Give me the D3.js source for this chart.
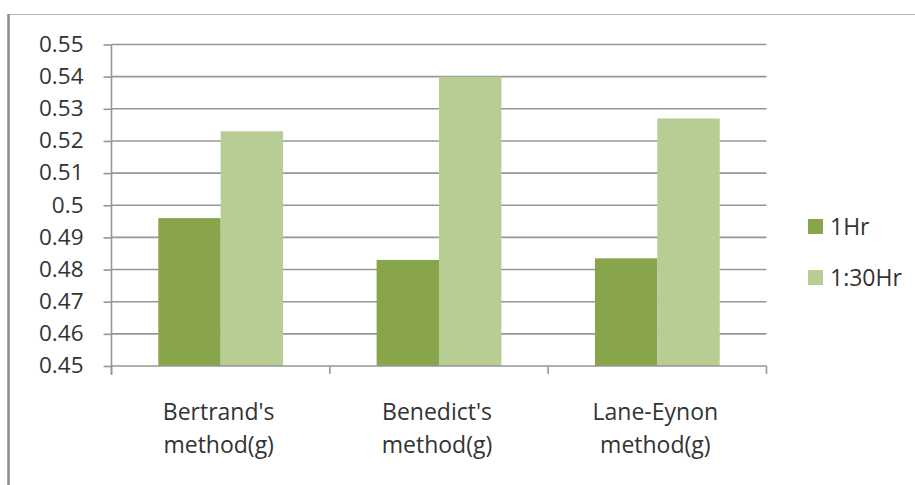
<!DOCTYPE html>
<html>
<head>
<meta charset="utf-8">
<script src="https://cdn.jsdelivr.net/npm/d3@7"></script>
<style>
  html, body { margin: 0; padding: 0; background: #fff; }
  svg { display: block; }
  text { font-family: "Open Sans", "Noto Sans", sans-serif; fill: #333; }
</style>
</head>
<body>
<svg id="chart" width="915" height="485"></svg>
<script>
// Sugar estimates per method, two reaction times
const categories = ["Bertrand's method(g)", "Benedict's method(g)", "Lane-Eynon method(g)"];
const categoryLines = [["Bertrand's", "method(g)"], ["Benedict's", "method(g)"], ["Lane-Eynon", "method(g)"]];
const seriesNames = ["1Hr", "1:30Hr"];
const series1Hr = [0.496, 0.483, 0.4835];
const series130Hr = [0.523, 0.540, 0.527];
const yTicks = [0.45, 0.46, 0.47, 0.48, 0.49, 0.5, 0.51, 0.52, 0.53, 0.54, 0.55];
const yTickLabels = ["0.45", "0.46", "0.47", "0.48", "0.49", "0.5", "0.51", "0.52", "0.53", "0.54", "0.55"];
const colors = ["#89a54c", "#b8cd94"];

const svg = d3.select("#chart");
const plot = { left: 111.5, right: 766.5, top: 44.5, bottom: 366 };

// outer frame (top and left edges)
svg.append("line").attr("x1", 8.5).attr("x2", 915).attr("y1", 14.5).attr("y2", 14.5)
  .attr("stroke", "#b4b4b4").attr("stroke-width", 1.2);
svg.append("line").attr("x1", 8.5).attr("x2", 8.5).attr("y1", 14).attr("y2", 485)
  .attr("stroke", "#8c8c8c").attr("stroke-width", 2.5);

const x0 = d3.scaleBand().domain(categories).range([plot.left, plot.right]).paddingInner(0).paddingOuter(0);
const gapFrac = 1.5 / 3.5;
const groupW = x0.bandwidth() * (1 - gapFrac);
const x1 = d3.scaleBand().domain(seriesNames).range([0, groupW]).padding(0);
const y = d3.scaleLinear().domain([0.45, 0.55]).range([plot.bottom, plot.top]);

// gridlines
svg.append("g").selectAll("line").data(yTicks.slice(1)).join("line")
  .attr("x1", plot.left).attr("x2", plot.right)
  .attr("y1", d => y(d)).attr("y2", d => y(d))
  .attr("stroke", "#969696").attr("stroke-width", 1.6);

// bars
const data = categories.map((c, i) => ({ cat: c, vals: [series1Hr[i], series130Hr[i]] }));
const groups = svg.append("g").selectAll("g").data(data).join("g")
  .attr("transform", d => `translate(${x0(d.cat) + (x0.bandwidth() - groupW) / 2},0)`);
groups.selectAll("rect").data(d => d.vals.map((v, j) => ({ v, s: seriesNames[j], j }))).join("rect")
  .attr("x", d => x1(d.s))
  .attr("width", x1.bandwidth())
  .attr("y", d => y(d.v))
  .attr("height", d => y(0.45) - y(d.v))
  .attr("fill", d => colors[d.j]);

// y axis
const yAxis = d3.axisLeft(y).tickValues(yTicks).tickSize(8).tickPadding(20)
  .tickFormat((d, i) => yTickLabels[i]);
const gy = svg.append("g").attr("transform", `translate(${plot.left},0)`).call(yAxis);
gy.select(".domain").attr("stroke", "#969696").attr("stroke-width", 1.6)
  .attr("d", `M0,${plot.top}V${plot.bottom + 9}`);
gy.selectAll(".tick line").attr("stroke", "#969696").attr("stroke-width", 1.6);
gy.selectAll(".tick text").attr("font-size", 22.5).attr("fill", "#333")
  .attr("font-family", "'Open Sans', sans-serif").attr("dy", "0.3em").attr("x", -28);

// x axis
const gx = svg.append("g").attr("transform", `translate(0,${plot.bottom})`);
gx.append("line").attr("x1", plot.left).attr("x2", plot.right).attr("y1", 0).attr("y2", 0)
  .attr("stroke", "#969696").attr("stroke-width", 1.6);
const tickXs = categories.map(c => x0(c)).concat([plot.right]);
gx.selectAll("line.t").data(tickXs).join("line").attr("class", "t")
  .attr("x1", d => d).attr("x2", d => d).attr("y1", 0).attr("y2", 8)
  .attr("stroke", "#969696").attr("stroke-width", 1.6);

const labels = svg.append("g").selectAll("text").data(categories).join("text")
  .attr("text-anchor", "middle").attr("font-size", 23)
  .attr("transform", d => `translate(${x0(d) + x0.bandwidth() / 2 - 2},0)`);
labels.selectAll("tspan").data((d, i) => categoryLines[i]).join("tspan")
  .attr("x", 0).attr("y", (d, k) => 420 + k * 32.5).text(d => d);

// legend
const legend = svg.append("g").selectAll("g").data(seriesNames).join("g")
  .attr("transform", (d, i) => `translate(808,${219 + i * 51})`);
legend.append("rect").attr("width", 15).attr("height", 15).attr("fill", (d, i) => colors[i]);
legend.append("text").attr("x", 22).attr("y", 16).attr("font-size", 23).text(d => d);
</script>
</body>
</html>
